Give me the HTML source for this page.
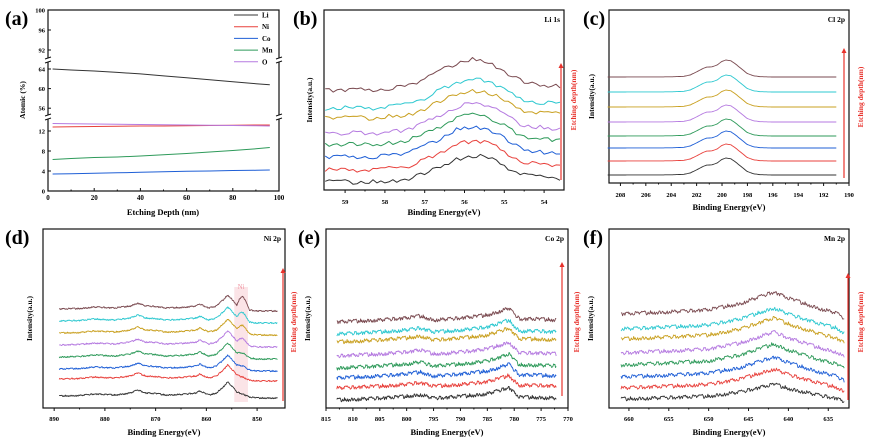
<!DOCTYPE html>
<html><head><meta charset="utf-8"><style>
body{margin:0;background:#fff}
svg{display:block;font-family:"Liberation Serif",serif;font-weight:bold}
</style></head><body>
<svg id="fig" width="872" height="443" viewBox="0 0 872 443" xmlns="http://www.w3.org/2000/svg"></svg>
<script>
// ---------- Panel (a) data ----------
const aDepth=[2,10,20,30,40,50,60,70,80,90,96];
const aLi=[64,63.8,63.6,63.3,63.0,62.6,62.2,61.8,61.4,61.0,60.8];
const aNi=[12.8,12.85,12.9,12.95,13.0,13.0,13.05,13.1,13.15,13.2,13.2];
const aCo=[3.4,3.45,3.55,3.65,3.75,3.85,3.95,4.0,4.1,4.15,4.2];
const aMn=[6.3,6.5,6.7,6.8,7.0,7.25,7.5,7.8,8.1,8.45,8.7];
const aO=[13.5,13.45,13.4,13.35,13.3,13.25,13.2,13.15,13.1,13.05,13.0];
const aXTicks=[0,20,40,60,80,100];
const aYTicks=[0,4,8,12,56,60,64,92,96,100];
const aLegend=["Li","Ni","Co","Mn","O"];
// ---------- shared ----------
const colors=["#333333","#e8413c","#1f5fd6","#2e9a5a","#b57ae0","#c9a020","#2ec8d0","#7a4a50"];
const noise=[0.3,-0.8,0.5,0.9,-0.2,-1,0.6,0.1,-0.5,0.8,-0.9,0.2,0.7,-0.4,-0.7,1,0,-0.6,0.4,-0.3,0.9,-1,0.5,0.2,-0.8,0.6,-0.1,0.3,-0.9,0.8,-0.5,0.1,0.7,-0.6,0.4,-0.2,1,-0.7,0.2,-0.4,0.6,-0.9,0.3,0.8,-0.3,-0.8,0.5,0,-0.5,0.9,-0.6,0.3,-0.1,0.7,-1,0.4,0.6,-0.2,-0.7,0.8,0.1,-0.4,0.5,-0.9,0.2,0.9,-0.3,-0.6,0.4,0.7,-0.8,0,0.6,-0.5,0.3,-0.7,0.9,-0.1,-0.4,0.8,-0.9,0.5,0.2,-0.6,0.1,0.7,-0.3,-0.8,0.4,0.9,-0.2,-0.5,0.6,-1,0.3,0.8,-0.4];
// ---------- Panel (b) Li 1s ----------
const bShapeE=[59.5,58.2,58,57.75,57.5,57.25,57,56.75,56.5,56.25,56,55.75,55.5,55.25,55,54.75,54.5,54.25,54,53.5];
const bShapeI=[0,0,1,2,3,6,10,15,20,25,28,29,28,24,18,12,8,6,5,4];
const bOffsets=[8,20,33,46,57,72,82,100];
const bAmps=[0.9,1,1.05,1,1,0.95,1,1.05];
const bTicks=[59,58,57,56,55,54];
// ---------- Panel (c) Cl 2p ----------
const cShapeE=[209,204,203,202.5,202,201.5,201.2,200.8,200.4,200,199.7,199.3,199,198.5,198,197.5,197,196,191];
const cShapeI=[0,0.01,0.04,0.12,0.3,0.5,0.58,0.6,0.7,0.92,1,0.95,0.8,0.5,0.2,0.07,0.02,0,0];
const cOffsets=[8,22,35,47,61,76,91,106];
const cAmps=[17,17,17,17,17,17,17,17];
const cTicks=[208,206,204,202,200,198,196,194,192,190];
// ---------- Panel (d) Ni 2p ----------
const dShapeE=[889,885,882,878,875,873.5,872,870,868,865,862,861.3,860,859.5,858,856.5,855.8,855,854,853.5,852.8,852,851.5,850,846];
const dShapeI=[0,0.5,2,1,3,6,3,2.5,1,1.5,3,5,2,1,3,10,14,10,4,3,2,0,-1,-2,-2];
const dMetalE=[854,853.5,852.8,852.2,851.5];
const dMetalI=[0,0.6,1,0.6,0];
const dOffsets=[12,29,39,51,63,75,87,99];
const dMetalAmps=[0,0,1,2,5,6,7,11];
const dTicks=[890,880,870,860,850];
// ---------- Panel (e) Co 2p ----------
const eShapeE=[813,805,800,797.5,795,792,788,785,782.5,781,780,779,776,772];
const eShapeI=[0,2,4,6,2,3,5,7,11,14,8,3,3,2];
const eOffsets=[8,20,30,40,52,66,74,86];
const eAmps=[0.9,0.9,1,1,1,1,1,1];
const eTicks=[815,810,805,800,795,790,785,780,775,770];
// ---------- Panel (f) Mn 2p ----------
const fShapeE=[661,655,650,646,643,641.8,640,638,636,634,633];
const fShapeI=[0,2,4,10,18,21,15,10,5,1,-4];
const fOffsets=[9,20,31,43,55,69,79,94];
const fAmps=[0.7,0.9,0.95,1,1,1,1,1.05];
const fTicks=[660,655,650,645,640,635];

const NS="http://www.w3.org/2000/svg";
const svg=document.getElementById('fig');
function mk(tag,attrs,parent){const e=document.createElementNS(NS,tag);for(const k in attrs)e.setAttribute(k,attrs[k]);(parent||svg).appendChild(e);return e;}
function txt(s,x,y,size,attrs,parent){const t=mk('text',Object.assign({x:x,y:y,'font-size':size},attrs||{}),parent);t.textContent=s;return t;}
function interp(E,I,e){
  const dec=E[0]>E[E.length-1];
  for(let i=0;i<E.length-1;i++){
    const a=E[i],b=E[i+1];
    if((dec&&e<=a&&e>=b)||(!dec&&e>=a&&e<=b)){const t=(e-a)/(b-a);return I[i]+t*(I[i+1]-I[i]);}
  }
  return (dec? (e>E[0]?I[0]:I[I.length-1]) : (e<E[0]?I[0]:I[I.length-1]));
}

// ---------- Panel (a) ----------
(function(){
  const g=mk('g',{});
  
  
  const X0=48,X1=279,Y0=10,Y1=191;
  const xs=v=>X0+(v/100)*(X1-X0);
  const ys=v=>v>=80?10+(100-v)*5:(v>=40?69+(64-v)*4.9:191-v*5);
  const box=mk('rect',{x:X0,y:Y0,width:X1-X0,height:Y1-Y0,fill:'none',stroke:'#111','stroke-width':1.2},g);
  
  
  aXTicks.forEach(v=>{
    mk('line',{x1:xs(v),x2:xs(v),y1:Y1,y2:Y1-3,stroke:'#111'},g);
    const t=txt(String(v),xs(v),Y1+9,7,{'text-anchor':'middle'},g);
    
    
  });
  [10,30,50,70,90].forEach(v=>mk('line',{x1:xs(v),x2:xs(v),y1:Y1,y2:Y1-1.5,stroke:'#111'},g));
  aYTicks.forEach(v=>{
    mk('line',{x1:X0,x2:X0+3,y1:ys(v),y2:ys(v),stroke:'#111'},g);
    const t=txt(String(v),X0-3,ys(v)+2.5,6.5,{'text-anchor':'end'},g);
    
    
  });
  // breaks
  [60,117].forEach(y=>{
    [X0,X1].forEach(x=>{
      mk('rect',{x:x-3,y:y-2,width:6,height:4,fill:'#fff'},g);
      mk('line',{x1:x-3,y1:y-1,x2:x+3,y2:y-3,stroke:'#111'},g);
      mk('line',{x1:x-3,y1:y+3,x2:x+3,y2:y+1,stroke:'#111'},g);
    });
  });
  const series=[aLi,aNi,aCo,aMn,aO];
  const scol=["#333333","#e8413c","#1f5fd6","#2e9a5a","#b57ae0"];
  series.forEach((s,k)=>{
    const d=s.map((v,i)=>(i?'L':'M')+xs(aDepth[i]).toFixed(1)+','+ys(v).toFixed(1)).join('');
    const p=mk('path',{d:d,fill:'none',stroke:scol[k],'stroke-width':1},g);
    
    
    const ly=15+k*11.7;
    const l=mk('line',{x1:234,x2:258,y1:ly,y2:ly,stroke:scol[k],'stroke-width':1},g);
    
    
    const t=txt(aLegend[k],262,ly+2.5,7,{},g);
    
    
  });
  const yl=txt('Atomic (%)',0,0,7.5,{transform:'translate(25,100) rotate(-90)','text-anchor':'middle'},g);
  
  
  const xl=txt('Etching Depth (nm)',163,215,8.5,{'text-anchor':'middle'},g);
  
  
  const pl=txt('(a)',5,25,20,{},g);
  
  
})();

// ---------- generic spectrum panel ----------
function spectrum(cfg){
  const g=mk('g',{});
  
  
  const {X0,X1,Y0,Y1,L,R}=cfg;
  const xs=e=>X0+(L-e)/(L-R)*(X1-X0);
  const ys=v=>Y1-v;
  const box=mk('rect',{x:X0,y:Y0,width:X1-X0,height:Y1-Y0,fill:'none',stroke:'#111','stroke-width':1.2},g);
  
  
  cfg.ticks.forEach(v=>{
    mk('line',{x1:xs(v),x2:xs(v),y1:Y1,y2:Y1+3,stroke:'#111'},g);
    const t=txt(String(v),xs(v),cfg.tickY,6.5,{'text-anchor':'middle'},g);
    
    
  });
  for(let i=0;i<cfg.ticks.length-1;i++){const m=(cfg.ticks[i]+cfg.ticks[i+1])/2;if(m<L&&m>R)mk('line',{x1:xs(m),x2:xs(m),y1:Y1,y2:Y1+1.5,stroke:'#111'},g);}
  if(cfg.band){
    const b=mk('rect',{x:xs(cfg.band[0]),y:cfg.band[2],width:xs(cfg.band[1])-xs(cfg.band[0]),height:cfg.band[3]-cfg.band[2],fill:'#f7c9cf',opacity:0.5},g);
    
    
    const bt=txt('Ni',(xs(cfg.band[0])+xs(cfg.band[1]))/2,cfg.band[2]+2,7,{'text-anchor':'middle',fill:'#f09aa6','font-weight':'normal'},g);
    
    
  }
  for(let k=0;k<8;k++){
    let d='';let i=0;
    for(let e=cfg.start;e>=cfg.end-1e-9;e-=cfg.step,i++){
      let v=cfg.offsets[k]+cfg.value(e,k)+cfg.noiseAmp*noise[(i*3+k*17)%noise.length];
      d+=(i?'L':'M')+xs(e).toFixed(1)+','+ys(v).toFixed(1);
    }
    const p=mk('path',{d:d,fill:'none',stroke:colors[k],'stroke-width':cfg.sw||0.9,'stroke-linejoin':'round'},g);
    
    
  }
  const a=cfg.arrow;
  const ar=mk('line',{x1:a[0],x2:a[0],y1:a[1],y2:a[2]+4,stroke:'#e8322c','stroke-width':1.2},g);
  
  
  mk('polygon',{points:`${a[0]-2.5},${a[2]+5} ${a[0]+2.5},${a[2]+5} ${a[0]},${a[2]}`,fill:'#e8322c'},g);
  const at=txt('Etching depth(nm)',0,0,7.5,{transform:`translate(${a[3]},${a[4]}) rotate(-90)`,'text-anchor':'middle',fill:'#e8322c'},g);
  
  
  const yl=txt('Intensity(a.u.)',0,0,7.5,{transform:`translate(${cfg.ylx},${(Y0+Y1)/2}) rotate(-90)`,'text-anchor':'middle'},g);
  
  
  const xl=txt('Binding Energy(eV)',(X0+X1)/2,cfg.titleY,8.5,{'text-anchor':'middle'},g);
  
  
  const tt=txt(cfg.title,X1-4,Y0+12,7.5,{'text-anchor':'end'},g);
  
  
  const pl=txt('('+cfg.id+')',cfg.lx,Y0+15,20,{},g);
  
  
}

spectrum({id:'b',title:'Li 1s',X0:324,X1:564,Y0:10,Y1:190,L:59.53,R:53.5,ticks:bTicks,tickY:204,titleY:215,
  start:59.5,end:53.55,step:0.1,noiseAmp:2.3,offsets:bOffsets,sw:1,
  value:(e,k)=>bAmps[k]*interp(bShapeE,bShapeI,e),arrow:[561,180,63,576,100],ylx:312,lx:293});
spectrum({id:'c',title:'Cl 2p',X0:609,X1:849,Y0:10,Y1:183,L:208.9,R:190,ticks:cTicks,tickY:197,titleY:210,
  start:209,end:191,step:0.1,noiseAmp:0,offsets:cOffsets,
  value:(e,k)=>cAmps[k]*interp(cShapeE,cShapeI,e),arrow:[844,178,48,863,97],ylx:594,lx:583});
spectrum({id:'d',title:'Ni 2p',X0:43,X1:285,Y0:229,Y1:408,L:892.2,R:844.5,ticks:dTicks,tickY:421,titleY:435,
  start:889,end:846,step:0.1,noiseAmp:0.7,offsets:dOffsets,band:[854.5,851.8,287,402],
  value:(e,k)=>interp(dShapeE,dShapeI,e)+dMetalAmps[k]*interp(dMetalE,dMetalI,e),arrow:[283,401,268,296,322],ylx:32,lx:5});
spectrum({id:'e',title:'Co 2p',X0:326,X1:568,Y0:229,Y1:408,L:815,R:770,ticks:eTicks,tickY:421,titleY:435,
  start:813,end:772.2,step:0.12,noiseAmp:2,offsets:eOffsets,
  value:(e,k)=>eAmps[k]*interp(eShapeE,eShapeI,e),arrow:[562,396,262,579,322],ylx:310,lx:298});
spectrum({id:'f',title:'Mn 2p',X0:609,X1:849,Y0:229,Y1:408,L:662.5,R:632.4,ticks:fTicks,tickY:421,titleY:435,
  start:661,end:633,step:0.1,noiseAmp:2,offsets:fOffsets,
  value:(e,k)=>fAmps[k]*interp(fShapeE,fShapeI,e),arrow:[848,400,273,863,322],ylx:593,lx:583});
</script>
</body></html>
